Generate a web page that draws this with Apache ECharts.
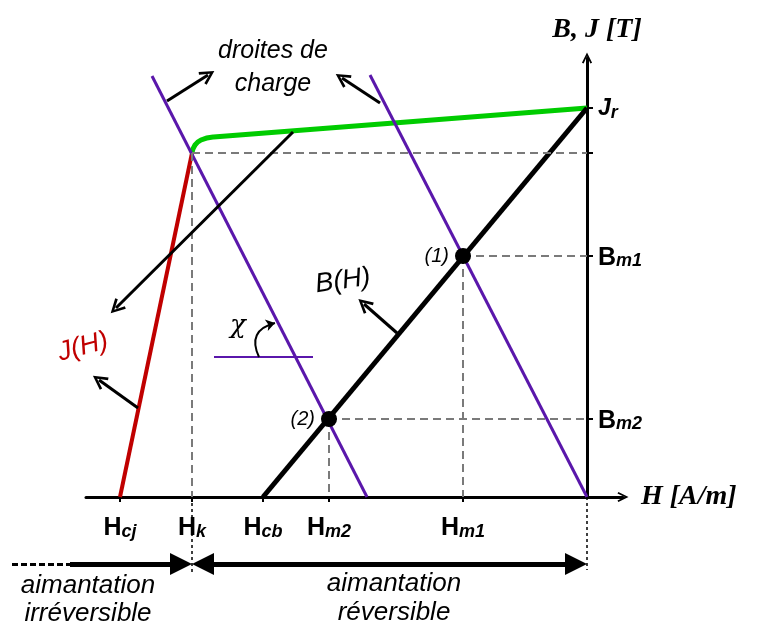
<!DOCTYPE html>
<html>
<head>
<meta charset="utf-8">
<script src="https://cdn.jsdelivr.net/npm/echarts@6/dist/echarts.min.js"></script>
<style>
html, body { margin: 0; padding: 0; background: #fff; }
#main { width: 758px; height: 630px; }
</style>
</head>
<body>
<div id="main"></div>
<script>
// valeurs (unites arbitraires, origine en (0,0))
var hTicks = [-467, -395, -324, -258, -124];
var hSubs = ['cj', 'k', 'cb', 'm2', 'm1'];
var bTicks = [389, 344, 241, 78];
var bMain = ['J', '', 'B', 'B'];
var bSubs = ['r', '', 'm1', 'm2'];

// courbes
var jGreen = [[0, 389], [-374, 360], [-386, 357], [-392, 352], [-395, 344]];
var jRed = [[-395, 344], [-467, 0]];
var bLine = [[0, 389], [-324, 0]];
var load1 = [[-435, 421], [-220, 0]];
var load2 = [[-217, 422], [0, 0]];
var chiBase = [[-373, 140], [-274, 140]];
var workPts = [[-124, 241], [-258, 78]];
var workNames = ['(1)', '(2)'];
var kneePt = [-395, 344];

// fleches d'annotation [depart, pointe]
var pointers = [
    [[-420, 396], [-379, 422]],
    [[-207, 394], [-245, 419]],
    [[-294, 365], [-471, 189]],
    [[-449, 89], [-488, 117]],
    [[-190, 164], [-223, 193]]
];
var chiArc = [[-328, 140], [-312, 174]];

// zones d'aimantation (sous l'axe)
var zoneY = -67;
var irrDash = [[-575, zoneY], [-517, zoneY]];
var irrArrow = [[-517, zoneY], [-406, zoneY]];
var revArrow = [[-384, zoneY], [-11, zoneY]];
var dotLines = [[[-395, 0], [-395, -78]], [[0, 0], [0, -73]]];

var FONT = '"Liberation Sans", Arial, sans-serif';
var chevron = 'path://M0,12 L6,0 L12,12 L10,13 L6,4.5 L2,13 Z';
var purple = '#5a17ab';
var grey = '#7a7a7a';

// lignes pointillees de lecture
var guides = [[kneePt, [0, kneePt[1]]], [kneePt, [kneePt[0], 0]]];
for (var i = 0; i < workPts.length; i++) {
    guides.push([workPts[i], [0, workPts[i][1]]]);
    guides.push([workPts[i], [workPts[i][0], 0]]);
}

function lineSeries(data, color, width, z) {
    return {
        type: 'line', data: data, showSymbol: false, silent: true, z: z || 2,
        lineStyle: { color: color, width: width }
    };
}

function arrowSeries(data, style, sym, symSize, clip) {
    style.opacity = 1;
    return {
        type: 'lines', coordinateSystem: 'cartesian2d', silent: true, clip: clip, z: 5,
        symbol: sym, symbolSize: symSize, lineStyle: style,
        data: data.map(function (g) { return { coords: g }; })
    };
}

var richLab = {
    m: { fontFamily: FONT, fontSize: 25, fontWeight: 'bold', color: '#000', lineHeight: 28, verticalAlign: 'top' },
    mi: { fontFamily: FONT, fontSize: 23, fontWeight: 'bold', fontStyle: 'italic', color: '#000', lineHeight: 28, verticalAlign: 'top' },
    s: { fontFamily: FONT, fontSize: 18, fontWeight: 'bold', fontStyle: 'italic', color: '#000', lineHeight: 28, verticalAlign: 'top', padding: [7, 0, 0, 0] }
};

var myChart = echarts.init(document.getElementById('main'));
var option = {
    backgroundColor: '#fff',
    animation: false,
    grid: { left: 86, right: 135, top: 58, bottom: 133 },
    xAxis: {
        type: 'value', min: -501, max: 36,
        name: 'H [A/m]', nameLocation: 'end', nameGap: 18,
        nameTextStyle: { fontFamily: '"Liberation Serif", "Times New Roman", serif', fontSize: 28, fontWeight: 'bold', fontStyle: 'italic', color: '#000' },
        axisLine: { onZero: false, symbol: ['none', chevron], symbolSize: [13, 11], lineStyle: { color: '#000', width: 3 } },
        axisTick: { show: true, customValues: hTicks, length: 5, lineStyle: { color: '#000', width: 2 } },
        axisLabel: {
            customValues: hTicks, margin: 19,
            formatter: function (v) {
                var i = hTicks.indexOf(v);
                return '{m|H}{s|' + hSubs[i] + '}';
            },
            rich: richLab
        },
        splitLine: { show: false }
    },
    yAxis: {
        type: 'value', min: 0, max: 439, position: 'right',
        name: 'B, J [T]', nameLocation: 'end', nameGap: 14,
        nameTextStyle: { fontFamily: '"Liberation Serif", "Times New Roman", serif', fontSize: 28, fontWeight: 'bold', fontStyle: 'italic', color: '#000', padding: [0, 0, 0, 20] },
        axisLine: { onZero: true, symbol: ['none', chevron], symbolSize: [13, 11], lineStyle: { color: '#000', width: 3 } },
        axisTick: { show: true, customValues: bTicks, length: 6, lineStyle: { color: '#000', width: 2 } },
        axisLabel: {
            customValues: bTicks, margin: -25, padding: [7, 0, 0, 0],
            formatter: function (v) {
                var i = bTicks.indexOf(v);
                if (!bMain[i]) return '';
                return '{' + (bMain[i] === 'J' ? 'mi' : 'm') + '|' + bMain[i] + '}{s|' + bSubs[i] + '}';
            },
            rich: richLab
        },
        splitLine: { show: false }
    },
    series: [
        arrowSeries(guides, { color: grey, width: 2, type: [8, 5] }, 'none', 0, true),
        arrowSeries(dotLines, { color: '#000', width: 1.5, type: [3, 3] }, 'none', 0, false),
        Object.assign(lineSeries(jGreen, '#00cc00', 5, 3), { smooth: 0.5 }),
        lineSeries(jRed, '#c00000', 4, 3),
        lineSeries(bLine, '#000', 5, 3),
        lineSeries(load1, purple, 3, 4),
        lineSeries(load2, purple, 3, 4),
        lineSeries(chiBase, purple, 2, 4),
        {
            type: 'scatter', data: workPts, symbolSize: 16, silent: true, z: 6,
            itemStyle: { color: '#000', opacity: 1 },
            label: {
                show: true, position: 'left', distance: 6,
                formatter: function (p) { return workNames[p.dataIndex]; },
                fontFamily: FONT, fontSize: 20, fontStyle: 'italic', color: '#000'
            }
        },
        arrowSeries(pointers, { color: '#000', width: 3 }, ['none', chevron], 15, false),
        arrowSeries([chiArc], { color: '#000', width: 2, curveness: 0.6 }, ['none', 'arrow'], 9, true),
        arrowSeries([irrDash], { color: '#000', width: 3, type: [6, 3] }, 'none', 0, false),
        arrowSeries([irrArrow], { color: '#000', width: 5 }, ['none', 'triangle'], 22, false),
        arrowSeries([revArrow], { color: '#000', width: 5 }, ['triangle', 'triangle'], 22, false)
    ],
    graphic: [
        { type: 'text', x: 273, y: 68, style: { text: 'droites de\ncharge', font: 'italic 25px ' + FONT, lineHeight: 33, align: 'center', verticalAlign: 'middle', fill: '#000' } },
        { type: 'text', x: 343, y: 281, rotation: 0.14, style: { text: 'B(H)', font: 'italic 27px ' + FONT, align: 'center', verticalAlign: 'middle', fill: '#000' } },
        { type: 'text', x: 83, y: 347, rotation: 0.26, style: { text: 'J(H)', font: 'italic 27px ' + FONT, align: 'center', verticalAlign: 'middle', fill: '#c00000' } },
        { type: 'text', x: 238, y: 326, style: { text: 'χ', font: 'italic 26px "DejaVu Serif", serif', align: 'center', verticalAlign: 'middle', fill: '#000' } },
        { type: 'text', x: 88, y: 600, style: { text: 'aimantation\nirréversible', font: 'italic 26px ' + FONT, lineHeight: 28, align: 'center', verticalAlign: 'middle', fill: '#000' } },
        { type: 'text', x: 394, y: 598, style: { text: 'aimantation\nréversible', font: 'italic 26px ' + FONT, lineHeight: 29, align: 'center', verticalAlign: 'middle', fill: '#000' } }
    ]
};
myChart.setOption(option);
</script>
</body>
</html>
